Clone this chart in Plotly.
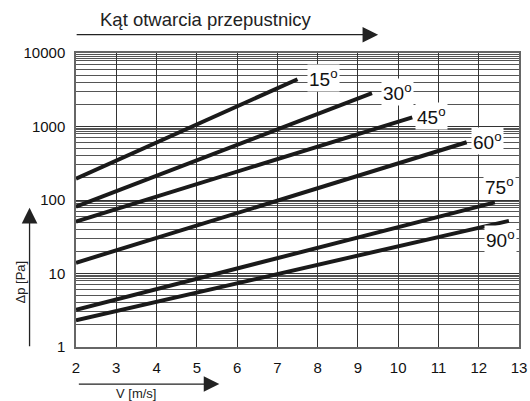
import math
import plotly.graph_objects as go

# ---- data ----
angles = ["15", "30", "45", "60", "75", "90"]
v_start = [2, 2, 2, 2, 2, 2]
v_end = [7.5, 9.35, 10.35, 11.7, 12.4, 12.75]
dp_start = [195, 81, 51, 14, 3.2, 2.3]
dp_end = [4400, 2850, 1330, 610, 93, 52]

x_ticks = [2, 3, 4, 5, 6, 7, 8, 9, 10, 11, 12, 13]
y_ticks = [1, 10, 100, 1000, 10000]
y_minor_mult = [2, 3, 4, 5, 6, 7, 8, 8.5, 9, 9.5]

title_text = "Kąt otwarcia przepustnicy"
x_label = "V [m/s]"
y_label = "Δp [Pa]"

# label placement (pixel offsets from line end) - styling only
label_shift = {
    "15": (9, 1, "left", "middle"),
    "30": (9, 1, "left", "middle"),
    "45": (3, 1, "left", "middle"),
    "60": (4, 1, "left", "middle"),
    "75": (-12, 2, "left", "bottom"),
    "90": (-25, -4, "left", "top"),
}

FONT = "Liberation Sans, Arial, sans-serif"
fig = go.Figure()

# labels first, then lines on top so label boxes never hide a line end
for a, x1, y1 in zip(angles, v_end, dp_end):
    xs, ys, xa, ya = label_shift[a]
    fig.add_annotation(x=x1, y=math.log10(y1), text=f"{a}<sup>o</sup>",
                       showarrow=False, xanchor=xa, yanchor=ya,
                       xshift=xs, yshift=ys, bgcolor="white",
                       borderpad=1,
                       font=dict(family=FONT, size=19, color="#111"))

for a, x0, x1, y0, y1 in zip(angles, v_start, v_end, dp_start, dp_end):
    fig.add_trace(go.Scatter(x=[x0, x1], y=[y0, y1], mode="lines",
                             line=dict(color="#1a1a1a", width=4),
                             showlegend=False, hoverinfo="skip"))

minor_vals = [d * m for d in [1, 10, 100, 1000] for m in y_minor_mult]

fig.update_xaxes(range=[2, 13], tickvals=x_ticks, showgrid=True,
                 gridcolor="#333", gridwidth=1, zeroline=False,
                 showline=True, linecolor="#666", linewidth=1.5, mirror=True,
                 ticks="outside", ticklen=6, tickcolor="rgba(0,0,0,0)",
                 automargin=False,
                 tickfont=dict(family=FONT, size=15, color="#111"))
fig.update_yaxes(type="log", range=[0, 4], tickvals=y_ticks,
                 ticktext=[str(v) for v in y_ticks],
                 showgrid=True, gridcolor="#333", gridwidth=1,
                 minor=dict(tickvals=minor_vals, showgrid=True,
                            gridcolor="#555", gridwidth=1, ticks=""),
                 showline=True, linecolor="#666", linewidth=1.5, mirror=True,
                 ticks="outside", ticklen=6, tickcolor="rgba(0,0,0,0)",
                 automargin=False,
                 tickfont=dict(family=FONT, size=15, color="#111"))

# Title with arrow
fig.add_annotation(xref="paper", yref="paper", x=(98 - 75.5) / 443.5,
                   y=(347 - 20) / 293.7,
                   text=title_text, showarrow=False, xanchor="left",
                   yanchor="middle",
                   font=dict(family=FONT, size=18.5, color="#222"))
fig.add_annotation(xref="paper", yref="paper", x=(378 - 75.5) / 443.5,
                   y=(347 - 35) / 293.7, ax=-303, ay=0, text="",
                   showarrow=True, arrowhead=2, arrowsize=2.4, arrowwidth=1.3,
                   arrowcolor="#222")
# x label with arrow
fig.add_annotation(xref="paper", yref="paper", x=(219 - 75.5) / 443.5,
                   y=(347 - 384) / 293.7, ax=-142, ay=0, text="",
                   showarrow=True, arrowhead=2, arrowsize=2.4, arrowwidth=1.3,
                   arrowcolor="#222")
fig.add_annotation(xref="paper", yref="paper", x=(136 - 75.5) / 443.5,
                   y=(347 - 393) / 293.7, text=x_label, showarrow=False,
                   xanchor="center", yanchor="middle",
                   font=dict(family=FONT, size=13, color="#222"))
# y label with arrow
fig.add_annotation(xref="paper", yref="paper", x=(29 - 75.5) / 443.5,
                   y=(347 - 208) / 293.7, ax=0, ay=140, text="",
                   showarrow=True, arrowhead=2, arrowsize=2.4, arrowwidth=1.3,
                   arrowcolor="#222")
fig.add_annotation(xref="paper", yref="paper", x=(20 - 75.5) / 443.5,
                   y=(347 - 282) / 293.7, text=y_label, showarrow=False,
                   textangle=-90, xanchor="center", yanchor="middle",
                   font=dict(family=FONT, size=13, color="#222"))

fig.update_layout(width=530, height=401, margin=dict(l=75.5, r=11, t=53, b=54),
                  plot_bgcolor="white", paper_bgcolor="white")

fig.write_html("out.html", config={"displayModeBar": False},
               post_script="document.body.style.margin='0';"
                           "document.body.style.overflow='hidden';")
